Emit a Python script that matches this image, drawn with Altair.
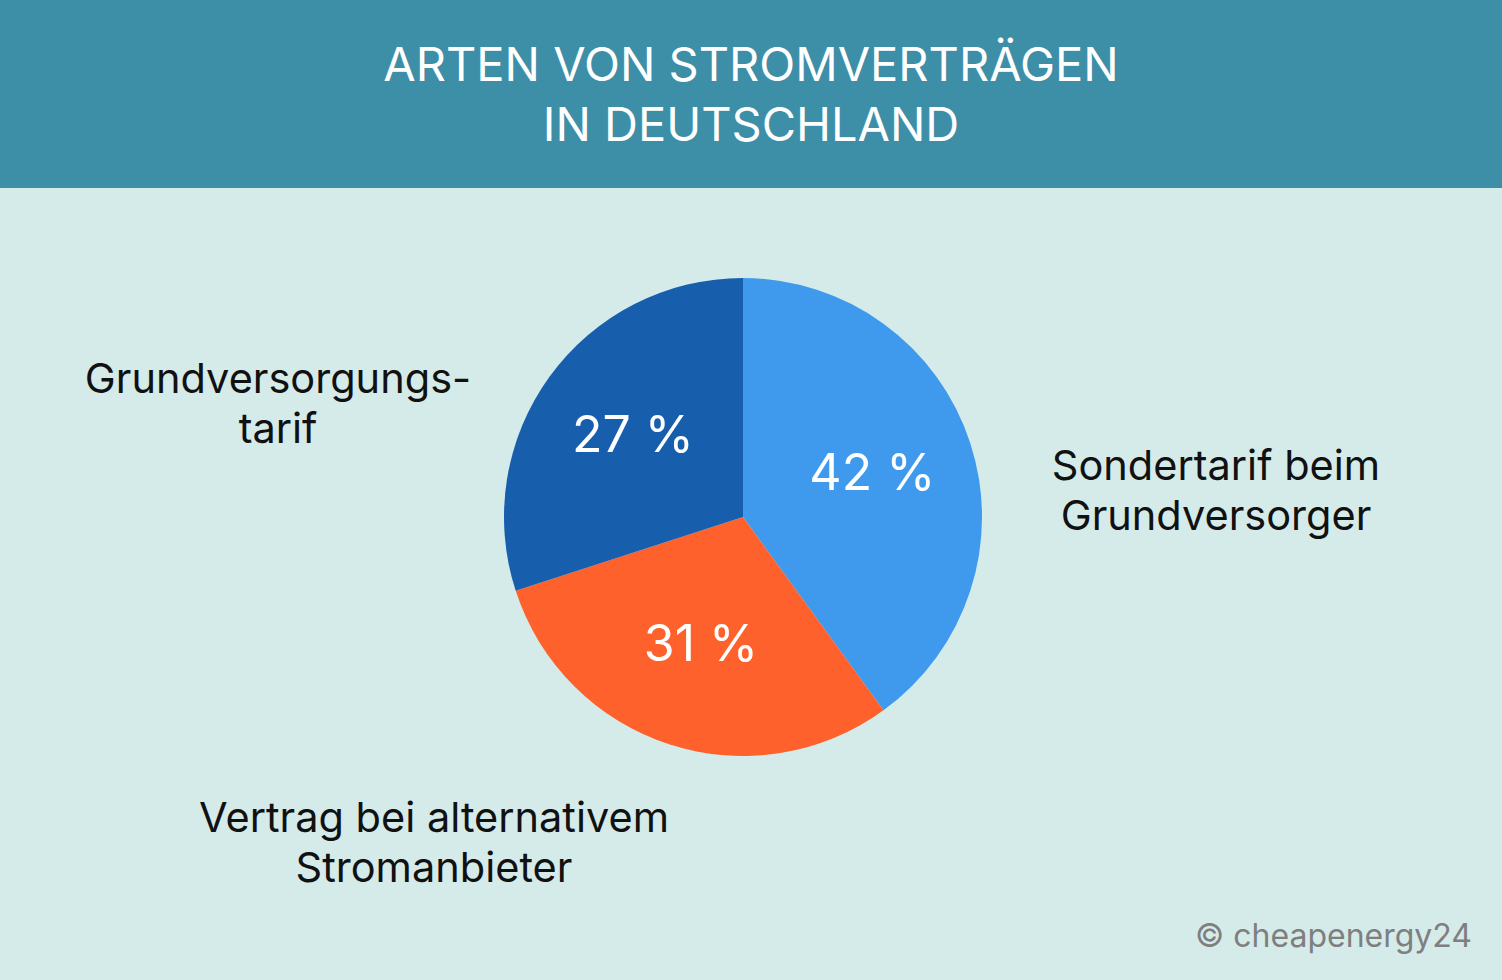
import altair as alt
import pandas as pd

categories = ["Sondertarif beim Grundversorger", "Vertrag bei alternativem Stromanbieter", "Grundversorgungstarif"]
# slice sizes as drawn in the reference (angles)
slice_values = [40, 30, 30]
# percentages printed on the slices
pct_labels = ["42 %", "31 %", "27 %"]
label_lines = ["Sondertarif beim\nGrundversorger", "Vertrag bei alternativem\nStromanbieter", "Grundversorgungs-\ntarif"]
colors = ["#3F9AEE", "#FF612C", "#175EAD"]
title_text = "ARTEN VON STROMVERTRÄGEN\nIN DEUTSCHLAND"
credit = "© cheapenergy24"

df = pd.DataFrame({
    "cat": categories,
    "value": slice_values,
    "pct": pct_labels,
    "label": label_lines,
    "order": list(range(len(categories))),
})

W, H = 1502, 980
CX, CY, R = 743, 517, 239
FONT = "Inter"

base = alt.Chart(df)

color = alt.Color("cat:N", scale=alt.Scale(domain=categories, range=colors), legend=None)

header = alt.Chart(pd.DataFrame({"a": [0]})).mark_rect(color="#3D8EA7").encode(
    x=alt.value(0), x2=alt.value(W), y=alt.value(0), y2=alt.value(188)
)

title = alt.Chart(pd.DataFrame({"t": [title_text]})).mark_text(
    font=FONT, fontSize=47, color="white", lineBreak="\n", lineHeight=60,
    align="center", baseline="middle", fontWeight="normal"
).encode(x=alt.value(W / 2), y=alt.value(67), text="t:N")

pie = base.mark_arc(outerRadius=R).encode(
    theta=alt.Theta("value:Q", stack=True),
    color=color,
    order=alt.Order("order:Q"),
    x=alt.value(CX), y=alt.value(CY),
)

pct = base.mark_text(radius=136, font=FONT, fontSize=50, color="white", align="center", baseline="middle").encode(
    theta=alt.Theta("value:Q", stack=True),
    order=alt.Order("order:Q"),
    text="pct:N",
    x=alt.value(CX), y=alt.value(CY),
)

label_pos = {
    categories[0]: (1216, 468),
    categories[1]: (434, 820),
    categories[2]: (278, 381),
}
label_layers = []
for c, (lx, ly) in label_pos.items():
    label_layers.append(
        base.transform_filter(alt.datum.cat == c).mark_text(
            font=FONT, fontSize=41.5, color="#111111", lineBreak="\n", lineHeight=50,
            align="center", baseline="middle"
        ).encode(x=alt.value(lx), y=alt.value(ly), text="label:N")
    )

credit_mark = alt.Chart(pd.DataFrame({"t": [credit]})).mark_text(
    font=FONT, fontSize=32, color="#7F7F7F", align="right", baseline="middle"
).encode(x=alt.value(1472), y=alt.value(937), text="t:N")

chart = alt.layer(header, title, pie, pct, *label_layers, credit_mark).properties(
    width=W, height=H, autosize="none", padding=0, background="#D5EBE9"
).configure_view(stroke=None)

chart.save("out.html", embed_options={"renderer": "svg", "actions": False})
